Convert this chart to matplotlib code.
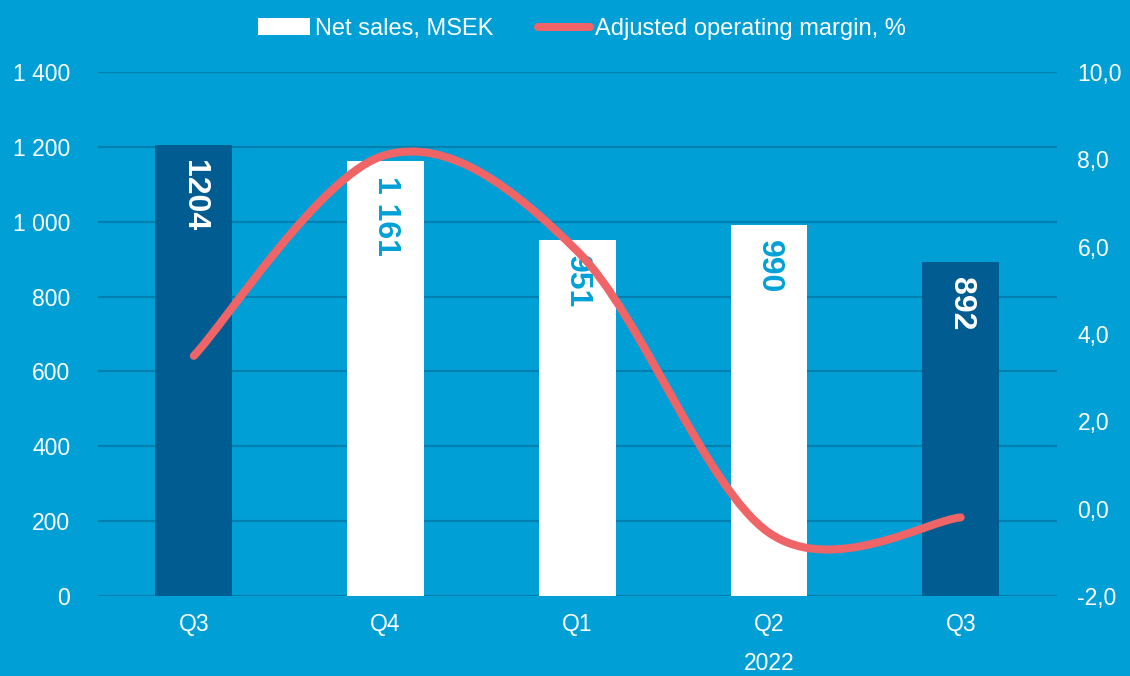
import matplotlib
matplotlib.use("Agg")
import matplotlib.pyplot as plt
import numpy as np
from matplotlib.path import Path
from matplotlib.patches import PathPatch
from matplotlib.lines import Line2D
from matplotlib.patches import Patch

categories = ["Q3", "Q4", "Q1", "Q2", "Q3"]
net_sales = [1204, 1161, 951, 990, 892]
sales_labels = ["1204", "1 161", "951", "990", "892"]
margin = [3.5, 8.1, 5.9, -0.55, -0.2]
bar_colors = ["#005C91", "#FFFFFF", "#FFFFFF", "#FFFFFF", "#005C91"]
label_colors = ["#FFFFFF", "#00A0D7", "#00A0D7", "#00A0D7", "#FFFFFF"]
left_ticks = [0, 200, 400, 600, 800, 1000, 1200, 1400]
left_ticklabels = ["0", "200", "400", "600", "800", "1 000", "1 200", "1 400"]
right_ticks = [-2, 0, 2, 4, 6, 8, 10]
right_ticklabels = ["-2,0", "0,0", "2,0", "4,0", "6,0", "8,0", "10,0"]
year_label = "2022"

BG = "#00A0D7"
GRID = "#0080AE"
LINE = "#EF6467"

plt.rcParams['font.family'] = ['Liberation Sans', 'DejaVu Sans']

fig = plt.figure(figsize=(11.3, 6.76), dpi=100, facecolor=BG)
ax = fig.add_axes([0.0867, 0.1183, 0.8483, 0.7752])
ax.set_facecolor(BG)
x = np.arange(len(categories))
ax.set_xlim(-0.5, len(categories) - 0.5)
ax.set_ylim(0, 1400)
for t in left_ticks:
    ax.axhline(t, color=GRID, lw=1.6, zorder=1)
ax.bar(x, net_sales, width=0.4, color=bar_colors, zorder=2)
for xi, v, lab, c in zip(x, net_sales, sales_labels, label_colors):
    ax.text(xi, v - 40, lab, rotation=270, ha='center', va='top', color=c,
            fontsize=23, fontweight='bold', zorder=3)
ax.set_yticks(left_ticks)
ax.set_yticklabels(left_ticklabels)
ax.set_xticks(x)
ax.set_xticklabels(categories)
ax.tick_params(axis='both', length=0, colors='white', labelsize=16.5)
ax.tick_params(axis='y', pad=20)
ax.tick_params(axis='x', pad=12)
for s in ax.spines.values():
    s.set_visible(False)
ax.text(3, -0.128, year_label, transform=ax.get_xaxis_transform(), ha='center', va='center',
        color='white', fontsize=16.5)

ax2 = ax.twinx()
ax2.set_ylim(-2, 10)
ax2.set_yticks(right_ticks)
ax2.set_yticklabels(right_ticklabels)
ax2.tick_params(axis='y', length=0, colors='white', labelsize=16.5, pad=15)
for s in ax2.spines.values():
    s.set_visible(False)

# smoothed line (Catmull-Rom style Bezier, like spreadsheet smoothing)
pts = np.column_stack([x.astype(float), margin])
ext = np.vstack([pts[0], pts, pts[-1]])
verts = [tuple(pts[0])]
codes = [Path.MOVETO]
for i in range(len(pts) - 1):
    p0, p1, p2, p3 = ext[i], ext[i + 1], ext[i + 2], ext[i + 3]
    c1 = p1 + (p2 - p0) / 6
    c2 = p2 - (p3 - p1) / 6
    verts += [tuple(c1), tuple(c2), tuple(p2)]
    codes += [Path.CURVE4] * 3
patch = PathPatch(Path(verts, codes), facecolor='none', edgecolor=LINE, lw=5.8,
                  capstyle='round', zorder=4)
ax2.add_patch(patch)

handles = [Patch(facecolor='white', edgecolor='none'),
           Line2D([0], [0], color=LINE, lw=5.8, solid_capstyle='round')]
fig.legend(handles, ["Net sales, MSEK", "Adjusted operating margin, %"], loc='upper center',
           bbox_to_anchor=(0.515, 1.005), ncol=2, frameon=False, fontsize=17,
           labelcolor='white', handlelength=2.2, handletextpad=0.2, columnspacing=1.9)

fig.savefig("out.png", dpi=100, facecolor=BG)
